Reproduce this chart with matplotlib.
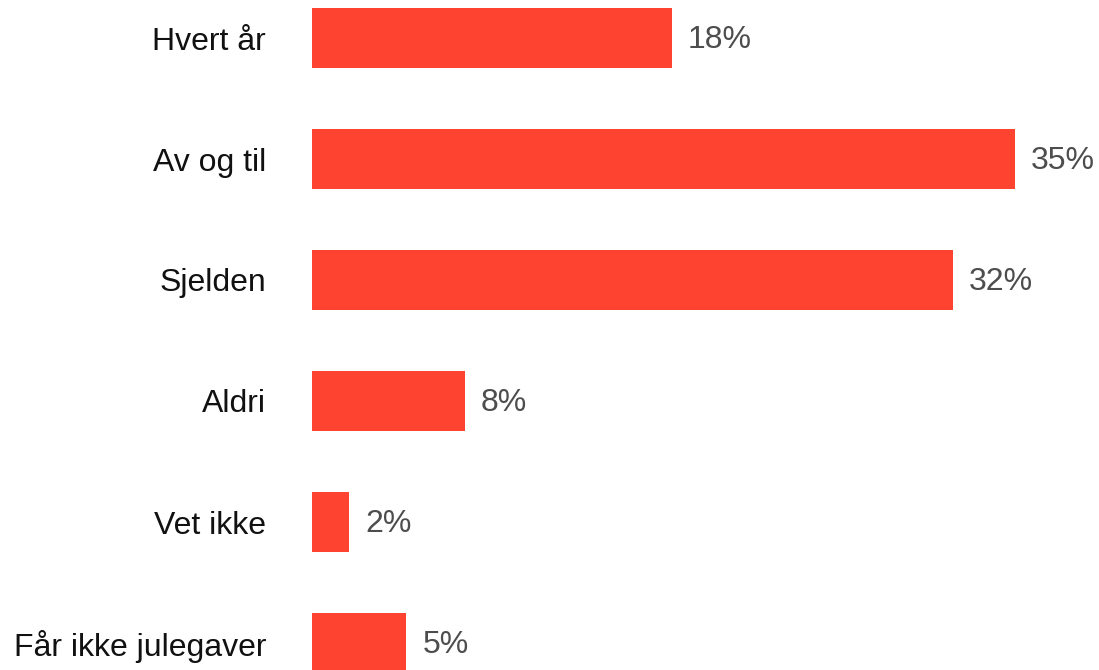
import matplotlib
matplotlib.use("Agg")
import matplotlib.pyplot as plt

categories = ["Hvert år", "Av og til", "Sjelden", "Aldri", "Vet ikke", "Får ikke julegaver"]
values = [17.9, 35.0, 31.9, 7.6, 1.85, 4.7]
value_labels = ["18%", "35%", "32%", "8%", "2%", "5%"]

plt.rcParams['font.family'] = ['Liberation Sans', 'DejaVu Sans']

W, H = 1099, 670
fig = plt.figure(figsize=(W / 100, H / 100), dpi=100)
ax = fig.add_axes([312 / W, 0, 1 - 312 / W, 1])

px_per_unit = 20.09
ax.set_xlim(0, (W - 312) / px_per_unit)
pitch = 121
ax.set_ylim((H - 38) / pitch, -38 / pitch)

ypos = list(range(len(categories)))
ax.barh(ypos, values, height=0.5, color="#FF4331")
for y, v, lab in zip(ypos, values, value_labels):
    ax.text(v + 16 / px_per_unit, y + 0.02, lab, va="center", ha="left", fontsize=23, color="#4D4D4D")

ax.set_yticks(ypos)
ax.set_yticklabels(categories, fontsize=23, color="#111111")
ax.tick_params(axis="y", length=0, pad=33)
ax.set_xticks([])
for s in ax.spines.values():
    s.set_visible(False)

fig.savefig("out.png", dpi=100)
